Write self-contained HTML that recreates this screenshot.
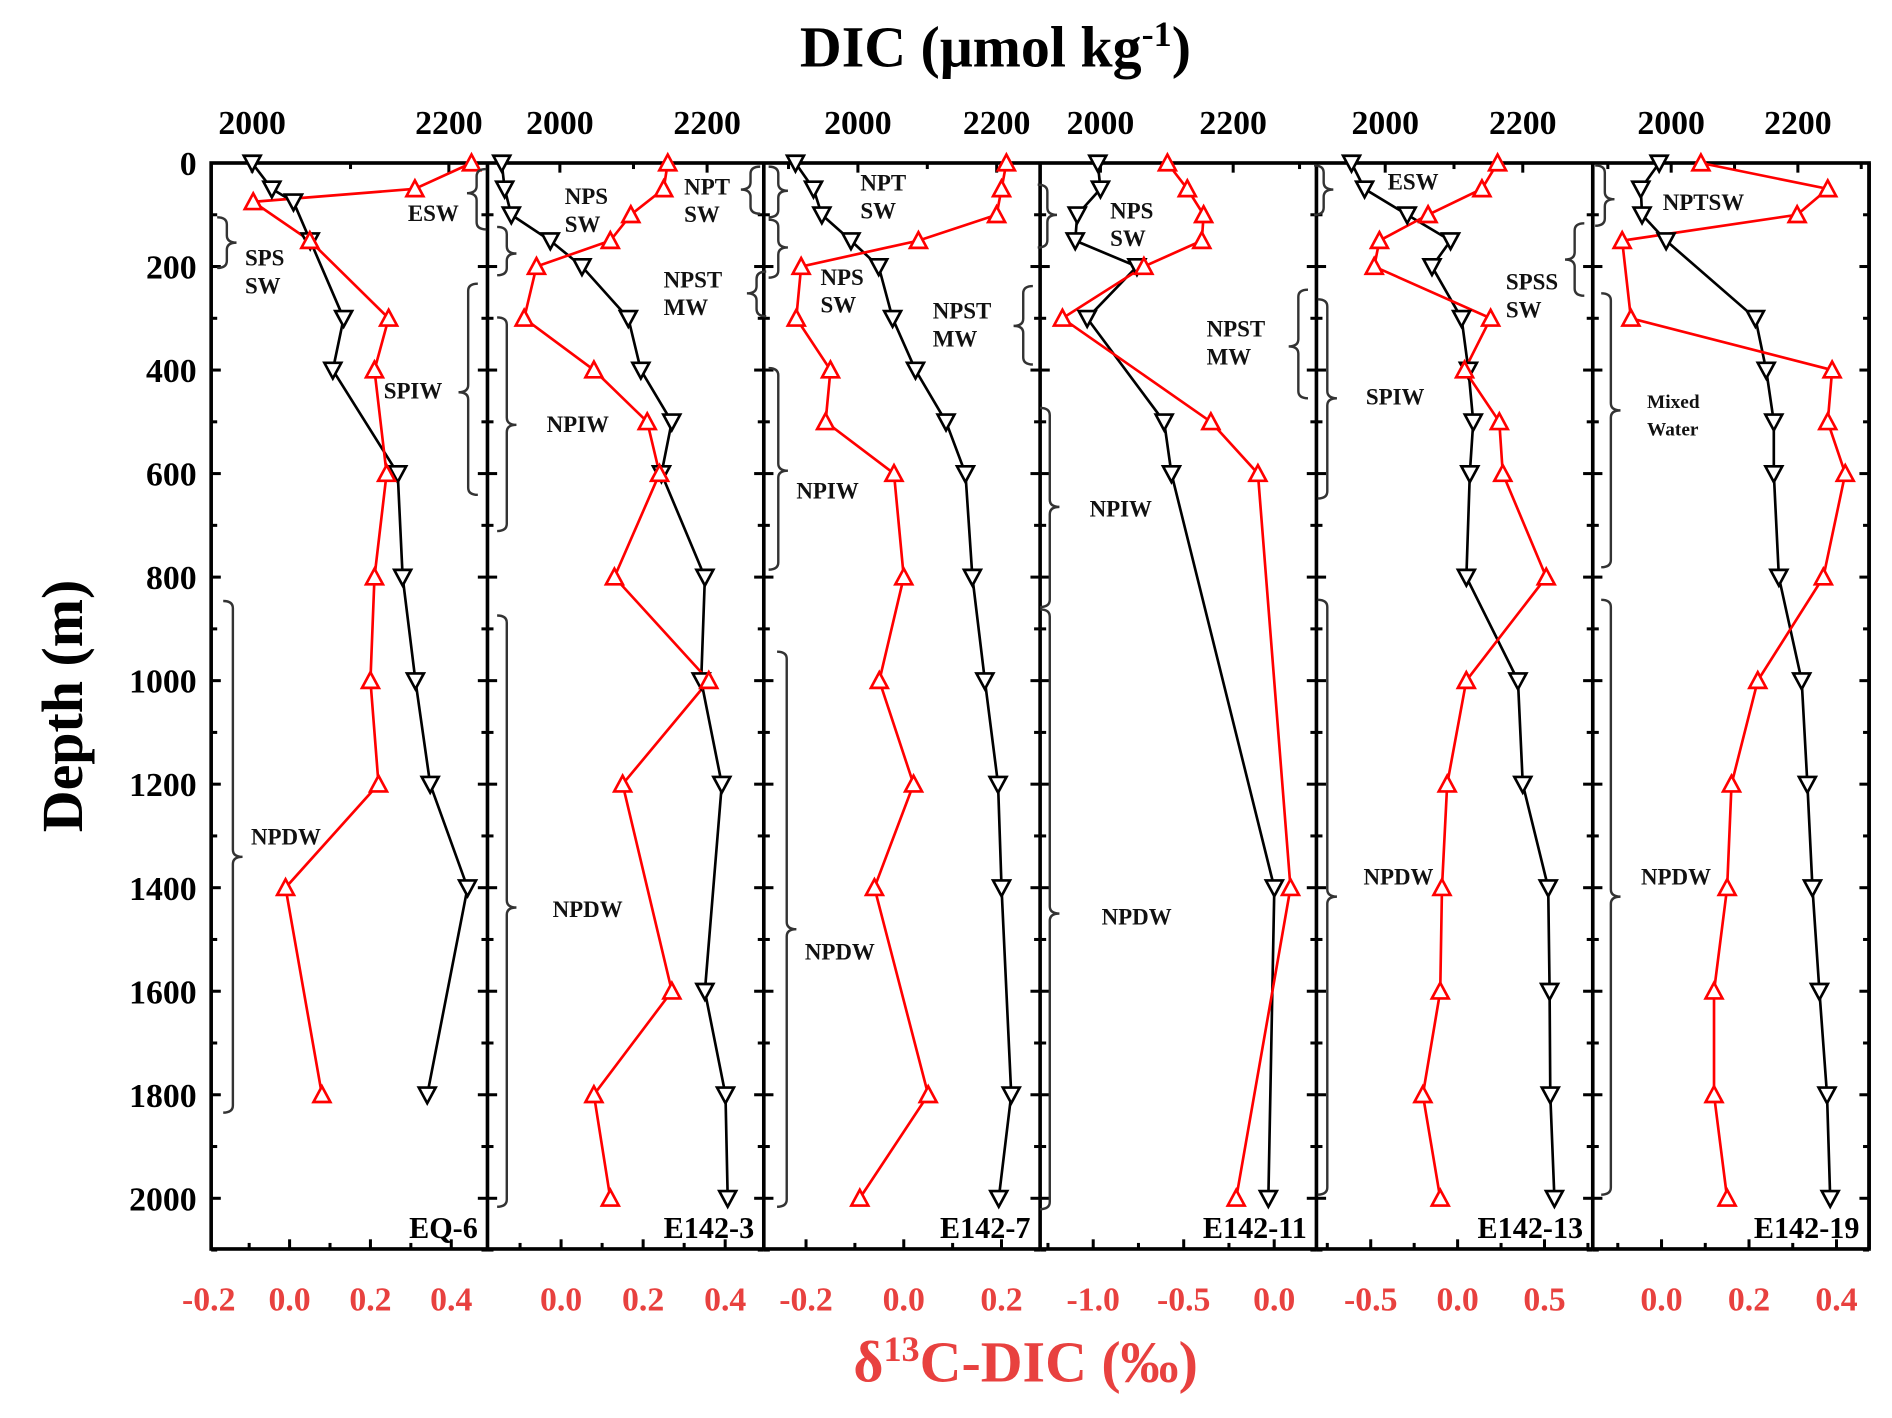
<!DOCTYPE html>
<html><head><meta charset="utf-8"><style>
html,body{margin:0;padding:0;background:#fff}
svg{display:block}
text{font-family:"Liberation Serif",serif;font-weight:bold}
</style></head><body>
<svg id="chart" width="1892" height="1418" viewBox="0 0 1568 1175" xmlns="http://www.w3.org/2000/svg">
<g id="root"></g>
</svg>
<script>
// ---- data ----
const stations = ["EQ-6","E142-3","E142-7","E142-11","E142-13","E142-19"];
const dicTickLabels = ["2000","2200"];
const depthTickLabels = ["0","200","400","600","800","1000","1200","1400","1600","1800","2000"];
const dicDepths = [
 [0,50,75,150,300,400,600,800,1000,1200,1400,1800],
 [0,50,100,150,200,300,400,500,600,800,1000,1200,1600,1800,2000],
 [0,50,100,150,200,300,400,500,600,800,1000,1200,1400,1800,2000],
 [0,50,100,150,200,300,500,600,1400,2000],
 [0,50,100,150,200,300,400,500,600,800,1000,1200,1400,1600,1800,2000],
 [0,50,100,150,300,400,500,600,800,1000,1200,1400,1600,1800,2000]
];
const dicValues = [
 [2000,2020,2042,2059,2093,2082,2148,2153,2166,2181,2219,2178],
 [1921,1925,1934,1987,2030,2093,2110,2152,2138,2197,2192,2220,2197,2225,2228],
 [1910,1936,1948,1990,2030,2050,2083,2127,2155,2165,2183,2202,2207,2221,2203],
 [1996,2000,1965,1962,2055,1980,2096,2107,2262,2253],
 [1951,1970,2032,2095,2068,2111,2121,2128,2123,2118,2193,2200,2237,2239,2240,2246],
 [1981,1952,1954,1992,2133,2150,2162,2162,2170,2206,2215,2223,2234,2246,2251]
];
const d13Depths = [
 [0,50,75,150,300,400,600,800,1000,1200,1400,1800],
 [0,50,100,150,200,300,400,500,600,800,1000,1200,1600,1800,2000],
 [0,50,100,150,200,300,400,500,600,800,1000,1200,1400,1800,2000],
 [0,50,100,150,200,300,500,600,1400,2000],
 [0,50,100,150,200,300,400,500,600,800,1000,1200,1400,1600,1800,2000],
 [0,50,100,150,300,400,500,600,800,1000,1200,1400,1600,1800,2000]
];
const d13Values = [
 [0.45,0.31,-0.09,0.05,0.245,0.21,0.24,0.21,0.20,0.22,-0.01,0.08],
 [0.26,0.25,0.17,0.12,-0.06,-0.09,0.08,0.21,0.24,0.13,0.36,0.15,0.27,0.08,0.12],
 [0.21,0.20,0.19,0.03,-0.21,-0.22,-0.15,-0.16,-0.02,0.00,-0.05,0.02,-0.06,0.05,-0.09],
 [-0.59,-0.48,-0.39,-0.40,-0.72,-1.17,-0.35,-0.09,0.09,-0.21],
 [0.23,0.14,-0.17,-0.45,-0.48,0.19,0.04,0.24,0.26,0.51,0.05,-0.06,-0.09,-0.10,-0.20,-0.10],
 [0.09,0.38,0.31,-0.09,-0.07,0.39,0.38,0.42,0.37,0.22,0.16,0.15,0.12,0.12,0.15]
];
const d13TickLabels = [
 ["-0.2","0.0","0.2","0.4"],
 ["0.0","0.2","0.4"],
 ["-0.2","0.0","0.2"],
 ["-1.0","-0.5","0.0"],
 ["-0.5","0.0","0.5"],
 ["0.0","0.2","0.4"]
];
// ---- layout / axis calibration ----
const panelX = [175,404,633,862,1091,1320,1549];
const TOP=135, BOT=1035;
const dicCal = [[209,372],[464,586],[711,826],[912,1022],[1148,1262],[1385,1490]];
const d13Cal = [[240,335],[465,340],[749,405],[1056,150],[1208,144],[1377,362.5]];
const yS = d => TOP + d*0.429;
const xDic = (p,v) => dicCal[p][0] + (v-2000)*(dicCal[p][1]-dicCal[p][0])/200;
const xD13 = (p,v) => d13Cal[p][0] + v*d13Cal[p][1];

const NS="http://www.w3.org/2000/svg";
const root=document.getElementById('root');
function mk(tag,attrs,parent){const e=document.createElementNS(NS,tag);for(const k in attrs)e.setAttribute(k,attrs[k]);(parent||root).appendChild(e);return e;}
function txt(s,x,y,size,fill,anchor,parent){const t=mk('text',{x:x,y:y,'font-size':size,fill:fill,'text-anchor':anchor||'middle'},parent);t.textContent=s;return t;}

let t=txt("DIC (μmol kg",825,55,48,"#000","middle");


const sup=document.createElementNS(NS,'tspan');sup.setAttribute('dy','-17');sup.setAttribute('font-size','30');sup.textContent='-1';t.appendChild(sup);
const cl=document.createElementNS(NS,'tspan');cl.setAttribute('dy','17');cl.textContent=')';t.appendChild(cl);
t=txt("",850,1145,48,"#e8413f","middle");


t.appendChild(document.createTextNode('δ'));
let s2=document.createElementNS(NS,'tspan');s2.setAttribute('dy','-17');s2.setAttribute('font-size','30');s2.textContent='13';t.appendChild(s2);
s2=document.createElementNS(NS,'tspan');s2.setAttribute('dy','17');s2.textContent='C-DIC (‰)';t.appendChild(s2);
t=txt("Depth (m)",0,0,48,"#000","middle");
t.setAttribute('transform','translate(68,585) rotate(-90)');



depthTickLabels.forEach(l=>{const d=+l;const e=txt(l,163,yS(d)+10,28,"#000","end");

});

let fr=mk('rect',{x:panelX[0],y:TOP,width:panelX[6]-panelX[0],height:BOT-TOP,fill:'none',stroke:'#000','stroke-width':3});



for(let p=0;p<6;p++){
  const g=mk('g',{});
  
  
  const L=panelX[p],R=panelX[p+1];
  mk('line',{x1:R,y1:TOP,x2:R,y2:BOT,stroke:'#000','stroke-width':3},g);
  for(let d=0;d<=2100;d+=100){const y=yS(d);const len=d%200===0?8:5;
    mk('line',{x1:L,y1:y,x2:L+len,y2:y,stroke:'#000','stroke-width':2.5},g);
    mk('line',{x1:R,y1:y,x2:R-len,y2:y,stroke:'#000','stroke-width':2.5},g);}
  for(let v=1800;v<=2400;v+=100){const x=xDic(p,v);if(x<L+3||x>R-3)continue;
    mk('line',{x1:x,y1:TOP,x2:x,y2:TOP+(v%200===0?8:5),stroke:'#000','stroke-width':2.5},g);}
  dicTickLabels.forEach(l=>{const e=txt(l,xDic(p,+l),111,28,"#000","middle",g);
    
    });
  const labs=d13TickLabels[p];
  const step=Math.abs(+labs[1]-+labs[0]);
  for(let v=-2;v<=1;v+=step/2){const vv=Math.round(v*1000)/1000;const x=xD13(p,vv);if(x<L+2||x>R-2)continue;
    const major=Math.abs(Math.round(vv/step)*step-vv)<1e-6;
    mk('line',{x1:x,y1:BOT,x2:x,y2:BOT-(major?8:5),stroke:'#000','stroke-width':2.5},g);}
  labs.forEach(l=>{const e=txt(l,xD13(p,+l),1086,28,"#e8413f","middle",g);
    
    });
  const dp=dicDepths[p].map((d,i)=>xDic(p,dicValues[p][i])+','+yS(d)).join(' ');
  const pl=mk('polyline',{points:dp,fill:'none',stroke:'#000','stroke-width':2.2},g);
  
  
  const rp=d13Depths[p].map((d,i)=>xD13(p,d13Values[p][i])+','+yS(d)).join(' ');
  const rl=mk('polyline',{points:rp,fill:'none',stroke:'#ff0000','stroke-width':2.2},g);
  
  
  dicDepths[p].forEach((d,i)=>{const x=xDic(p,dicValues[p][i]),y=yS(d);
    const m=mk('polygon',{points:`${x-7},${y-6} ${x+7},${y-6} ${x},${y+7}`,fill:'#fff',stroke:'#000','stroke-width':2.2},g);
    
    });
  d13Depths[p].forEach((d,i)=>{const x=xD13(p,d13Values[p][i]),y=yS(d);
    const m=mk('polygon',{points:`${x-7},${y+6} ${x+7},${y+6} ${x},${y-7}`,fill:'#fff',stroke:'#ff0000','stroke-width':2.2},g);
    
    });
  const st=txt(stations[p],R-8,1026,25,"#000","end",g);
  
  
}

function brace(x,y1,y2,dir,ym){
  ym=ym||(y1+y2)/2;const w=8,r=6;
  const d=`M${x-dir*w},${y1} Q${x},${y1} ${x},${y1+r} L${x},${ym-r} Q${x},${ym} ${x+dir*w},${ym} Q${x},${ym} ${x},${ym+r} L${x},${y2-r} Q${x},${y2} ${x-dir*w},${y2}`;
  const e=mk('path',{d:d,fill:'none',stroke:'#333','stroke-width':2});
  
  
}
function lab(lines,x,y,size){lines.forEach((l,i)=>{const e=txt(l,x,y+i*23,size||19,"#111","start");
  
  });}
brace(395,140,190,-1,160); lab(["ESW"],338,183);
brace(188,180,222,1); lab(["SPS","SW"],203,220);
brace(388,235,410,-1,325); lab(["SPIW"],318,330);
brace(193,498,922,1,710); lab(["NPDW"],208,700);
brace(622,138,177,-1,157); lab(["NPT","SW"],567,161);
brace(420,188,228,1,210); lab(["NPS","SW"],468,169);
brace(420,263,440,1,352); lab(["NPIW"],453,358);
brace(420,510,1000,1,752); lab(["NPDW"],458,760);
brace(645,138,180,1,158); lab(["NPT","SW"],713,158);
brace(645,182,230,1,205); lab(["NPS","SW"],680,236);
brace(627,225,262,-1,243); lab(["NPST","MW"],550,238);
brace(645,305,472,1,390); lab(["NPIW"],660,413);
brace(652,540,1000,1,770); lab(["NPDW"],667,795);
brace(848,237,302,-1,270); lab(["NPST","MW"],773,264);
brace(868,153,205,1,178); lab(["NPS","SW"],920,181);
brace(870,338,503,1,420); lab(["NPIW"],903,428);
brace(870,505,1002,1,757); lab(["NPDW"],913,766);
brace(1097,137,178,1,157); lab(["ESW"],1150,157);
brace(1076,240,330,-1,287); lab(["NPST","MW"],1000,279);
brace(1305,185,245,-1,215); lab(["SPSS","SW"],1248,240);
brace(1100,248,413,1,330); lab(["SPIW"],1132,335);
brace(1100,497,990,1,743); lab(["NPDW"],1130,733);
brace(1330,137,187,1,165); lab(["NPTSW"],1378,174);
brace(1335,243,470,1,340); lab(["Mixed","Water"],1365,338,16);
brace(1335,497,990,1,743); lab(["NPDW"],1360,733);
</script>
</body></html>
